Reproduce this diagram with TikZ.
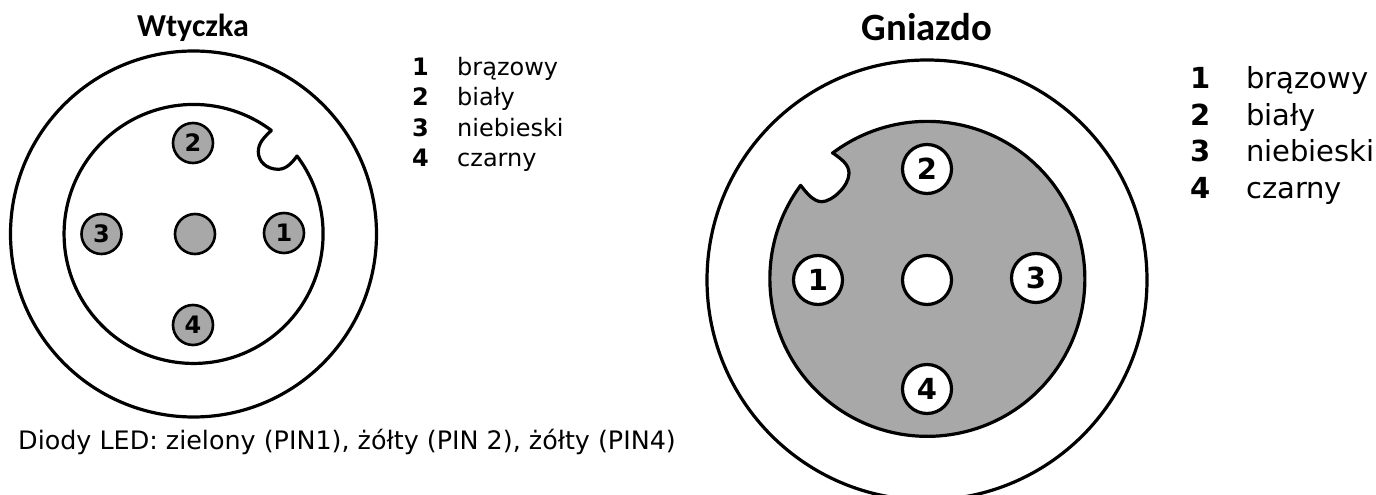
\documentclass[tikz,border=0pt]{standalone}
\usepackage{fontspec}
\setmainfont{DejaVu Sans}
\newfontfamily\titlefont{Carlito}[BoldFont={Carlito Bold}]
\newcommand{\fs}[1]{\fontsize{#1}{#1}\selectfont}
\definecolor{pingrey}{HTML}{A8A8A8}
\tikzset{
  x=1pt,y=1pt,
  ring/.style={draw=black,line width=3.2pt,fill=none},
  body/.style={draw=black,line width=3.2pt,line join=round},
  pinsmall/.style={circle,draw=black,line width=2.6pt,fill=pingrey,minimum size=40pt,inner sep=0pt,font=\fs{24}\bfseries},
  pinbig/.style={circle,draw=black,line width=3.2pt,fill=white,minimum size=49pt,inner sep=0pt,font=\fs{29}\bfseries},
  heading/.style={inner sep=0pt,font=\titlefont\bfseries},
  numa/.style={anchor=base west,inner sep=0pt,font=\fs{24}\bfseries},
  txta/.style={anchor=base west,inner sep=0pt,font=\fs{24}},
  numb/.style={anchor=base west,inner sep=0pt,font=\fs{29}\bfseries},
  txtb/.style={anchor=base west,inner sep=0pt,font=\fs{29}},
}
\begin{document}
\begin{tikzpicture}
\useasboundingbox (0,0) rectangle (1376,495);
\clip (0,0) rectangle (1376,495);
\fill[white] (0,0) rectangle (1376,495);
% plug
\draw[ring] (193.5,261) circle[radius=183];
\draw[body,fill=white] (271.4,364.6) .. controls (264,357.5) and (258.3,352) .. (258.3,343.3)
  .. controls (258.3,333) and (267,325.7) .. (278.3,325.7)
  .. controls (286,325.7) and (292,332) .. (297,339)
  arc[start angle=37,end angle=-307,radius=129.5] -- cycle;
% socket
\draw[ring] (927,215) circle[radius=220];
\draw[body,fill=pingrey] (832.6,342.2) .. controls (841,336) and (849,331) .. (849,321.7)
  .. controls (849,309) and (832,293.3) .. (821.7,293.3)
  .. controls (813,293.3) and (806,303) .. (800.6,309.6)
  arc[start angle=143.6,end angle=487.07,radius=157.5] -- cycle;
% plug pins
\node[pinsmall] (a2) at (193,352) {2};
\node[pinsmall] (a3) at (101.5,261) {3};
\node[pinsmall] (a0) at (195,261) {};
\node[pinsmall] (a1) at (284,262) {1};
\node[pinsmall] (a4) at (193,170) {4};
% socket pins
\node[pinbig] (b2) at (927,326) {2};
\node[pinbig] (b1) at (818,215) {1};
\node[pinbig] (b0) at (927,215) {};
\node[pinbig] (b3) at (1036,217) {3};
\node[pinbig] (b4) at (927,106) {4};
% titles
\node[heading,font=\titlefont\bfseries\fs{32}] (t1) at (193,467) {Wtyczka};
\node[heading,font=\titlefont\bfseries\fs{38.7}] (t2) at (927,467.5) {Gniazdo};
% left legend
\node[numa] (n1) at (412,419) {1}; \node[txta] (c1) at (457,419) {brązowy};
\node[numa] (n2) at (412,389) {2}; \node[txta] (c2) at (457,389) {biały};
\node[numa] (n3) at (412,358.5) {3}; \node[txta] (c3) at (457,358.5) {niebieski};
\node[numa] (n4) at (412,328) {4}; \node[txta] (c4) at (457,328) {czarny};
% right legend
\node[numb] (m1) at (1190,406.5) {1}; \node[txtb] (d1) at (1246,406.5) {brązowy};
\node[numb] (m2) at (1190,369.5) {2}; \node[txtb] (d2) at (1246,369.5) {biały};
\node[numb] (m3) at (1190,333) {3}; \node[txtb] (d3) at (1246,333) {niebieski};
\node[numb] (m4) at (1190,296) {4}; \node[txtb] (d4) at (1246,296) {czarny};
% caption
\node[anchor=base west,inner sep=0pt,font=\fs{25.4}] (cap) at (18,45) {Diody LED: zielony (PIN1), żółty (PIN 2), żółty (PIN4)};
\end{tikzpicture}
\end{document}
